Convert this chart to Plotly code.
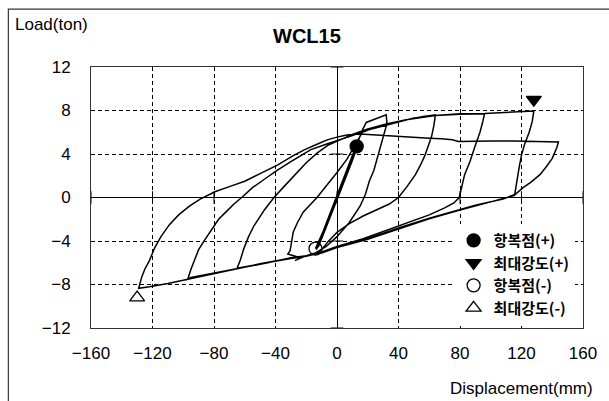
import plotly.graph_objects as go

# ---------------- data ----------------
x_ticks = [-160, -120, -80, -40, 0, 40, 80, 120, 160]
y_ticks = [-12, -8, -4, 0, 4, 8, 12]

# elastic cycles (about ±13 mm)
elastic_x = [0, 4, 8, 12.8, 9, 3, -2, -8, -14, -9, -3, 2, 7, 12, 8, 1, -5, -11, -13.5,
             -8, -2, 4, 9, 12.5, 7, 0, -6, -12, -13, -6, 0, 6, 11.5, 13.5, 9.5, 3.5, -3, -9, -12.5,
             -7, -1, 5, 10.5, 14, 10, 2, -4, -10, -12, -5, 1.5, 7.5, 11.5]
elastic_y = [0, 1.5, 3.0, 4.7, 3.4, 1.0, -0.9, -3.0, -4.7, -3.1, -1.0, 0.8, 2.6, 4.5, 3.0, 0.3, -2.0, -4.1, -4.8,
             -2.8, -0.6, 1.6, 3.4, 4.6, 2.6, -0.1, -2.3, -4.3, -4.6, -2.0, 0.2, 2.4, 4.4, 4.9, 3.3, 1.1, -1.2, -3.4, -4.6,
             -2.5, -0.3, 1.9, 3.9, 5.0, 3.4, 0.5, -1.6, -3.8, -4.5, -1.8, 0.6, 2.9, 4.4]

# cycle to +32 / -31, reload to +64
cyc32_x = [11.5, 13.5, 15, 16.5, 19, 25, 32, 32.5, 30, 27, 24, 21, 18.5, 15, 8, 0, -7, -14, -20, -27.4,
           -24, -21, -26, -31, -32, -30.5, -29.5, -28.5, -25.7, -22, -13, -6, 0, 6.4, 10, 13, 16.5,
           24, 32.3, 40, 48, 56, 64]
cyc32_y = [4.4, 5.0, 5.6, 6.2, 6.9, 7.25, 7.6, 6.8, 5.5, 3.8, 2.5, 1.5, 0.3, -0.8, -2.3, -3.6, -4.5, -5.1, -5.35, -5.8,
           -5.55, -5.4, -5.45, -5.25, -5.2, -4.9, -4.2, -3.2, -2.3, -1.35, 0, 1.2, 2.3, 3.5, 4.4, 5.2, 6.0,
           6.4, 6.75, 7.0, 7.25, 7.45, 7.6]

# cycle to +64 / -65, reload to +96
cyc64_x = [64, 63, 61.5, 59.6, 57, 54, 51, 45.5, 40, 34, 28, 17, 8, 0, -6, -10, -14, -20, -30, -40, -50, -60, -65,
           -63, -60.6, -57.5, -54, -47, -41, -34.5, -28, -20, -12.8, -6, 2, 10, 20, 32, 45, 64, 80, 96]
cyc64_y = [7.6, 6.6, 5.6, 4.8, 3.8, 2.9, 2.1, 1.0, 0, -0.6, -1.0, -1.7, -2.4, -3.2, -4.1, -4.8, -5.15, -5.4, -5.6,
           -5.85, -6.1, -6.35, -6.5, -5.8, -4.7, -3.6, -2.6, -1.1, 0, 1.0, 2.0, 3.2, 4.1, 4.8, 5.3, 5.8, 6.3,
           6.75, 7.15, 7.55, 7.65, 7.7]

# cycle to +96 / -97, reload to +128
cyc96_x = [96, 94.5, 93, 90, 86.5, 83, 81, 79.5, 76, 70, 60, 40, 17, 0, -10, -20, -30, -45, -65, -80, -95, -98,
           -96, -97, -95, -92.5, -90, -86, -81.5, -77, -72, -67, -62, -55, -47, -39, -30, -23, -17, -8, 0,
           10, 20, 36, 50, 64, 80, 96, 110, 120, 128]
cyc96_y = [7.7, 6.8, 6.0, 4.8, 3.3, 2.1, 1.0, 0, -0.5, -0.95, -1.6, -2.6, -3.8, -4.5, -5.0, -5.35, -5.55, -6.0,
           -6.55, -7.0, -7.35, -7.6, -7.4, -7.5, -6.6, -5.6, -4.8, -3.9, -2.9, -2.0, -1.3, -0.6, 0, 0.9, 1.7,
           2.5, 3.3, 3.9, 4.4, 4.85, 5.2, 5.7, 6.2, 6.75, 7.3, 7.55, 7.7, 7.72, 7.8, 7.85, 7.95]

# cycle to +128 / -129, reload to +144
cyc128_x = [128, 127, 125, 122, 120, 118.5, 117.5, 116.5, 115.5, 108, 100, 90, 80, 60, 40, 20, 0, -10, -20,
            -35, -50, -65, -80, -97, -110, -122, -129, -127, -125, -122, -118.5, -114.5, -109, -103, -96,
            -89, -79, -70, -60, -50, -38.5, -29, -21, -13, -6.4, 0, 6.4, 15, 25, 38, 50, 60, 68, 75, 79,
            90, 100, 115, 130, 144]
cyc128_y = [7.95, 7.0, 6.0, 4.9, 3.9, 2.8, 1.8, 0.8, 0.2, -0.1, -0.4, -0.7, -1.1, -1.9, -2.8, -3.8, -4.6,
            -5.05, -5.4, -5.7, -6.1, -6.55, -7.0, -7.55, -7.9, -8.2, -8.35, -7.3, -6.6, -5.8, -4.6, -3.6,
            -2.5, -1.6, -0.8, -0.15, 0.55, 1.0, 1.5, 2.2, 3.0, 3.8, 4.4, 4.9, 5.3, 5.55, 5.75, 5.85, 5.75,
            5.65, 5.55, 5.45, 5.4, 5.3, 5.15, 5.2, 5.2, 5.2, 5.15, 5.1]

# last unloading from +144
cyc144_x = [144, 143, 140, 136, 132, 126, 121, 116, 108, 100, 90, 80, 60, 40, 20, 0, -10, -14]
cyc144_y = [5.1, 4.6, 3.6, 2.8, 2.1, 1.4, 0.9, 0.3, -0.15, -0.4, -0.75, -1.15, -1.95, -2.9, -3.85, -4.6,
            -5.1, -5.2]

# characteristic points
yield_pos = (12.8, 4.7)
max_pos = (128, 9.0)
yield_neg = (-14, -4.7)
max_neg = (-130, -9.2)
legend_names = ["항복점(+)", "최대강도(+)", "항복점(-)", "최대강도(-)"]

# ---------------- figure ----------------
loop_x = elastic_x + cyc32_x + cyc64_x + cyc96_x + cyc128_x + cyc144_x
loop_y = elastic_y + cyc32_y + cyc64_y + cyc96_y + cyc128_y + cyc144_y

fig = go.Figure()

# cross tick marks on the zero axes, placed at the tick values
fig.add_trace(go.Scatter(x=x_ticks, y=[0] * len(x_ticks), mode="markers", showlegend=False,
                         hoverinfo="skip", cliponaxis=False,
                         marker=dict(symbol="line-ns-open", size=9, color="black",
                                     line=dict(color="black", width=1))))
fig.add_trace(go.Scatter(x=[0] * len(y_ticks), y=y_ticks, mode="markers", showlegend=False,
                         hoverinfo="skip", cliponaxis=False,
                         marker=dict(symbol="line-ew-open", size=9, color="black",
                                     line=dict(color="black", width=1))))

fig.add_trace(go.Scatter(x=loop_x, y=loop_y, mode="lines",
                         line=dict(color="black", width=1.5), showlegend=False, hoverinfo="skip"))

pts = [yield_pos, max_pos, yield_neg, max_neg]
symbols = ["circle", "triangle-down", "circle-open", "triangle-up-open"]
for (px_, py_), sym, name in zip(pts, symbols, legend_names):
    fig.add_trace(go.Scatter(x=[px_], y=[py_], mode="markers", name=name,
                             marker=dict(symbol=sym, size=13, color="black",
                                         line=dict(color="black", width=1.3))))

font = "Liberation Sans, Arial, sans-serif"
grid = dict(showgrid=True, gridcolor="black", gridwidth=1, griddash="4px,3px",
            zeroline=True, zerolinecolor="black", zerolinewidth=1.3,
            showline=True, mirror=True, linecolor="#333", linewidth=1,
            ticks="outside", tickcolor="rgba(0,0,0,0)",
            tickfont=dict(family=font, size=17, color="black"))

fig.update_layout(
    width=609, height=401,
    margin=dict(l=91, r=19, t=67, b=73),
    paper_bgcolor="white", plot_bgcolor="white",
    xaxis=dict(range=[-160, 160], tickvals=x_ticks, ticklen=10, **grid),
    yaxis=dict(range=[-12, 12], tickvals=y_ticks, ticklen=16, **grid),
    legend=dict(x=0.737, y=0.398, xanchor="left", yanchor="top", bgcolor="white",
                borderwidth=0,
                font=dict(family="Noto Sans CJK KR", size=15, color="black", weight="bold"),
                tracegroupgap=0),
    showlegend=True,
    annotations=[
        dict(text="Load(ton)", xref="paper", yref="paper", x=-0.158, y=1.161,
             xanchor="left", yanchor="middle", showarrow=False,
             font=dict(family=font, size=17, color="black")),
        dict(text="<b>WCL15</b>", xref="paper", yref="paper", x=0.439, y=1.12,
             xanchor="center", yanchor="middle", showarrow=False,
             font=dict(family=font, size=20, color="black")),
        dict(text="Displacement(mm)", xref="paper", yref="paper", x=1.024, y=-0.23,
             xanchor="right", yanchor="middle", showarrow=False,
             font=dict(family=font, size=17, color="black")),
    ],
    shapes=[dict(type="rect", xref="paper", yref="paper", x0=-0.168, x1=1.06, y0=-0.32, y1=1.222,
                 line=dict(color="#333", width=1.2), layer="below")],
)

fig.write_html("out.html")
